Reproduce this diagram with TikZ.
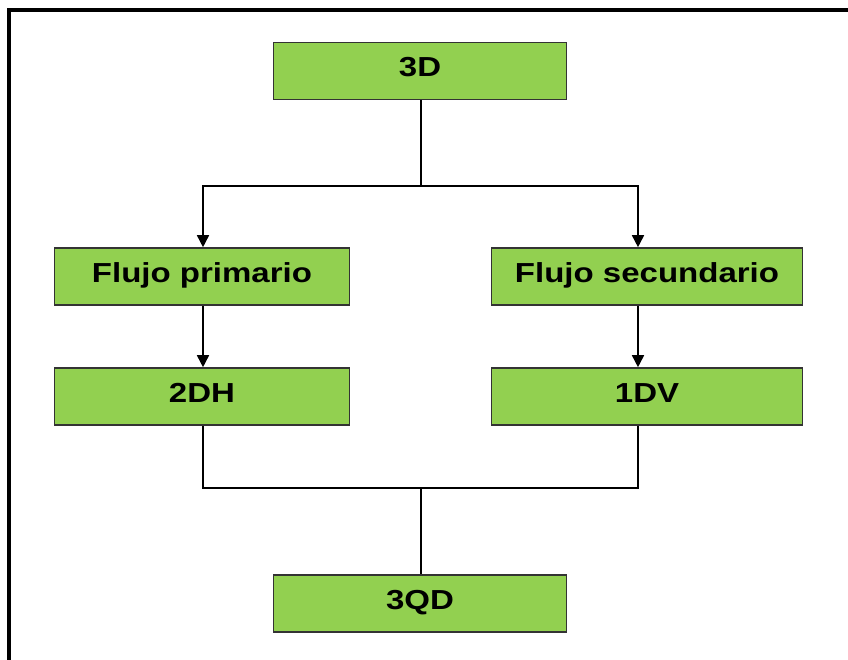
\documentclass[tikz,border=0pt]{standalone}
\usepackage{fontspec}
\setmainfont[FakeStretch=1.2]{Liberation Sans}
\usetikzlibrary{arrows.meta}
\definecolor{boxgreen}{HTML}{92D050}
\definecolor{boxedge}{HTML}{333333}
\tikzset{
  flowbox/.style={draw=boxedge, line width=1.6pt, fill=boxgreen,
    minimum height=57pt, inner sep=0pt,
    font=\fontsize{27.5pt}{30pt}\selectfont\bfseries,
    text height=21pt, text depth=9.4pt},
  link/.style={line width=1.6pt, draw=black},
  arrowlink/.style={link, -{Triangle[length=12pt,width=12pt]}},
}
\begin{document}
\begin{tikzpicture}[x=1pt, y=-1pt]
  \useasboundingbox (0,0) rectangle (848,659);
  \begin{scope}
    \clip (0,0) rectangle (848,659);
    % outer frame, running past the right and lower edges
    \draw[line width=4pt, black] (9,10) rectangle (900,720);
  \end{scope}

  % boxes
  \node[flowbox, minimum width=293pt] (top) at (420,71) {3D};
  \node[flowbox, minimum width=295pt] (fp)  at (202,276.5) {Flujo primario};
  \node[flowbox, minimum width=311pt] (fs)  at (647,276.5) {Flujo secundario};
  \node[flowbox, minimum width=295pt] (dh)  at (202,396.5) {2DH};
  \node[flowbox, minimum width=311pt] (dv)  at (647,396.5) {1DV};
  \node[flowbox, minimum width=293pt] (qd)  at (420,603.5) {3QD};

  % branch points
  \coordinate (split) at (421,186);
  \coordinate (join)  at (421,488);
  \coordinate (fsin)  at ([xshift=-9pt]fs.north);
  \coordinate (fsout) at ([xshift=-9pt]fs.south);
  \coordinate (dvin)  at ([xshift=-9pt]dv.north);
  \coordinate (dvout) at ([xshift=-9pt]dv.south);

  % connectors
  \draw[link] (top.south -| split) -- (split);
  \draw[arrowlink] (split) -| ([xshift=1pt]fp.north);
  \draw[arrowlink] (split) -| (fsin);
  \draw[arrowlink] ([xshift=1pt]fp.south) -- ([xshift=1pt]dh.north);
  \draw[arrowlink] (fsout) -- (dvin);
  \draw[link] ([xshift=1pt]dh.south) |- (join) -| (dvout);
  \draw[link] (join) -- (qd.north -| join);
\end{tikzpicture}
\end{document}
